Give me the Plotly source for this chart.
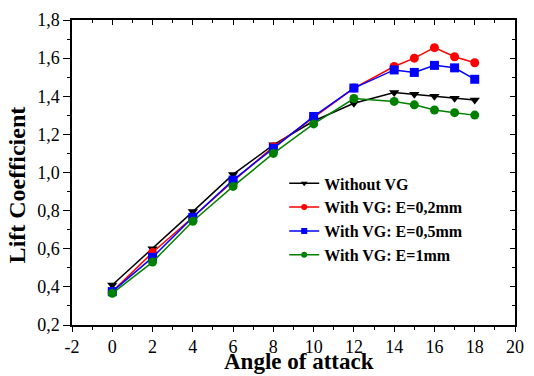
import plotly.graph_objects as go

angles = [0, 2, 4, 6, 8, 10, 12, 14, 15, 16, 17, 18]
cl_without = [0.41, 0.60, 0.795, 0.99, 1.145, 1.27, 1.363, 1.42, 1.41, 1.40, 1.39, 1.38]
cl_e02 = [0.375, 0.58, 0.765, 0.955, 1.135, 1.29, 1.443, 1.556, 1.60, 1.655, 1.607, 1.576]
cl_e05 = [0.375, 0.555, 0.765, 0.96, 1.127, 1.294, 1.443, 1.538, 1.525, 1.562, 1.549, 1.489]
cl_e1 = [0.366, 0.53, 0.744, 0.927, 1.10, 1.255, 1.388, 1.373, 1.355, 1.328, 1.314, 1.301]

x_ticks = list(range(-2, 21, 2))
x_labels = [str(v) for v in x_ticks]
y_ticks = [0.2, 0.4, 0.6, 0.8, 1.0, 1.2, 1.4, 1.6, 1.8]
y_labels = ["0,2", "0,4", "0,6", "0,8", "1,0", "1,2", "1,4", "1,6", "1,8"]

series = [
    ("Without VG", cl_without, "black", "triangle-down"),
    ("With VG: E=0,2mm", cl_e02, "red", "circle"),
    ("With VG: E=0,5mm", cl_e05, "blue", "square"),
    ("With VG: E=1mm", cl_e1, "green", "circle"),
]

fig = go.Figure()
for name, vals, col, sym in series:
    fig.add_trace(go.Scatter(
        x=angles, y=vals, name=name, mode="lines+markers",
        line=dict(color=col, width=1.5),
        marker=dict(color=col, symbol=sym, size=9),
        showlegend=False,
    ))
for name, vals, col, sym in series:
    fig.add_trace(go.Scatter(
        x=[None], y=[None], name=name, mode="lines+markers",
        line=dict(color=col, width=1.5),
        marker=dict(color=col, symbol=sym, size=6),
    ))
# carrier for the mirrored (top/right) tick axes
fig.add_trace(go.Scatter(x=[None], y=[None], xaxis="x2", yaxis="y2",
                         showlegend=False, hoverinfo="skip"))

font = "'Liberation Serif', 'DejaVu Serif', serif"
fig.update_layout(
    width=534, height=376,
    margin=dict(l=72, r=10, t=13, b=51),
    paper_bgcolor="white", plot_bgcolor="white",
    font=dict(family=font, color="black", size=18),
    showlegend=True,
    legend=dict(
        x=0.479, y=0.52, xanchor="left", yanchor="top",
        font=dict(family=font, size=16, color="black", weight="bold"),
        bgcolor="rgba(0,0,0,0)", borderwidth=0,
        itemwidth=30, tracegroupgap=0,
    ),
    xaxis=dict(
        range=[-2, 20], tickvals=x_ticks, ticktext=x_labels, showgrid=False, zeroline=False,
        showline=True, linecolor="black", linewidth=1.5, mirror=True,
        ticks="outside", ticklen=5, tickwidth=1, tickcolor="black",
        minor=dict(dtick=1, ticks="outside", ticklen=3, tickcolor="black", showgrid=False),
        tickfont=dict(family=font, size=18),
    ),
    yaxis=dict(
        range=[0.2, 1.8], tickvals=y_ticks, ticktext=y_labels, showgrid=False, zeroline=False,
        showline=True, linecolor="black", linewidth=1.5, mirror=True,
        ticks="outside", ticklen=7, tickwidth=1, tickcolor="black",
        minor=dict(dtick=0.1, tick0=0.2, ticks="outside", ticklen=3, tickcolor="black", showgrid=False),
        tickfont=dict(family=font, size=18),
    ),
    xaxis2=dict(
        overlaying="x", side="top", range=[-2, 20], tickvals=x_ticks,
        showticklabels=False, showgrid=False, zeroline=False, showline=False,
        ticks="inside", ticklen=5, tickwidth=1, tickcolor="black",
        minor=dict(dtick=1, ticks="inside", ticklen=3, tickcolor="black", showgrid=False),
    ),
    yaxis2=dict(
        overlaying="y", side="right", range=[0.2, 1.8], tickvals=y_ticks,
        showticklabels=False, showgrid=False, zeroline=False, showline=False,
        ticks="inside", ticklen=5, tickwidth=1, tickcolor="black",
        minor=dict(dtick=0.1, tick0=0.2, ticks="inside", ticklen=3, tickcolor="black", showgrid=False),
    ),
    annotations=[
        dict(text="<b>Angle of attack</b>", xref="paper", yref="paper",
             x=0.512, y=-0.1635, xanchor="center", yanchor="bottom", showarrow=False,
             borderpad=0, font=dict(family=font, size=23, color="black")),
        dict(text="<b>Lift Coefficient</b>", xref="paper", yref="paper",
             x=-0.124, y=0.458, xanchor="center", yanchor="middle", showarrow=False,
             textangle=-90, font=dict(family=font, size=24, color="black")),
    ],
)
fig.write_html("out.html")
